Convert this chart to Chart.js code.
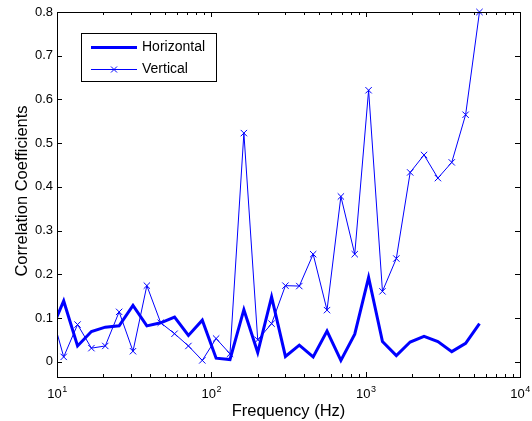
<!DOCTYPE html>
<html>
<head>
<meta charset="utf-8">
<script src="https://cdn.jsdelivr.net/npm/chart.js"></script>
<style>
  html, body { margin: 0; padding: 0; background: #fff; }
  #wrap { width: 532px; height: 421px; }
</style>
</head>
<body>
<div id="wrap"><canvas id="chart" width="532" height="421"></canvas></div>
<script>
// Band centre frequencies (Hz). The first one is below 10 Hz, so the axis clips it.
const frequencies = [8.99, 11.05, 13.59, 16.71, 20.55, 25.27, 31.07, 38.21, 46.99, 57.78, 71.05, 87.37, 107.4, 132.1, 162.5, 199.8, 245.7, 302.1, 371.5, 456.9, 561.8, 690.9, 849.6, 1044.7, 1284.7, 1579.8, 1942.7, 2389, 2938, 3613, 4443, 5463];
const horizontal = [0.065, 0.139, 0.036, 0.069, 0.079, 0.082, 0.129, 0.082, 0.089, 0.102, 0.060, 0.095, 0.008, 0.005, 0.119, 0.021, 0.148, 0.012, 0.038, 0.011, 0.070, 0.003, 0.063, 0.193, 0.046, 0.014, 0.045, 0.058, 0.046, 0.023, 0.042, 0.087];
const vertical = [0.125, 0.011, 0.085, 0.031, 0.036, 0.114, 0.024, 0.174, 0.089, 0.064, 0.036, 0.003, 0.053, 0.018, 0.523, 0.050, 0.087, 0.174, 0.173, 0.246, 0.118, 0.378, 0.246, 0.621, 0.161, 0.236, 0.433, 0.473, 0.420, 0.456, 0.565, 0.800];

const seriesNames = ['Horizontal', 'Vertical'];
const yTicks = [0, 0.1, 0.2, 0.3, 0.4, 0.5, 0.6, 0.7, 0.8];
const yTickLabels = ['0', '0.1', '0.2', '0.3', '0.4', '0.5', '0.6', '0.7', '0.8'];
const xDecades = [10, 100, 1000, 10000];
const xExponents = ['1', '2', '3', '4'];
const xMinorSteps = [2, 3, 4, 5, 6, 7, 8, 9];

const BLUE = '#0000ff';
const FONT = "'Liberation Sans', Arial, Helvetica, sans-serif";

function toPoints(values) {
  return values.map((v, i) => ({ x: frequencies[i], y: v }));
}

function drawCross(ctx, cx, cy, r) {
  ctx.beginPath();
  ctx.moveTo(cx - r, cy - r); ctx.lineTo(cx + r, cy + r);
  ctx.moveTo(cx - r, cy + r); ctx.lineTo(cx + r, cy - r);
  ctx.stroke();
}

// Matlab-style box, inward ticks, tick labels, axis titles and legend
const axesFrame = {
  id: 'axesFrame',
  afterDatasetsDraw(chart) {
    const { ctx, chartArea: a, scales: { x, y } } = chart;
    ctx.save();
    ctx.strokeStyle = '#000';
    ctx.fillStyle = '#000';
    ctx.lineWidth = 1;
    ctx.strokeRect(a.left + 0.5, a.top + 0.5, a.right - a.left, a.bottom - a.top);

    // y ticks, left and right
    ctx.beginPath();
    yTicks.forEach(t => {
      const py = Math.round(y.getPixelForValue(t)) + 0.5;
      ctx.moveTo(a.left, py); ctx.lineTo(a.left + 5, py);
      ctx.moveTo(a.right, py); ctx.lineTo(a.right - 5, py);
    });
    // x ticks, bottom and top
    xDecades.forEach((d, i) => {
      const px = Math.round(x.getPixelForValue(d)) + 0.5;
      ctx.moveTo(px, a.bottom); ctx.lineTo(px, a.bottom - 5);
      ctx.moveTo(px, a.top); ctx.lineTo(px, a.top + 5);
      if (i < xDecades.length - 1) {
        xMinorSteps.forEach(m => {
          const mx = Math.round(x.getPixelForValue(d * m)) + 0.5;
          ctx.moveTo(mx, a.bottom); ctx.lineTo(mx, a.bottom - 3);
          ctx.moveTo(mx, a.top); ctx.lineTo(mx, a.top + 3);
        });
      }
    });
    ctx.stroke();

    // y tick labels
    ctx.font = '13px ' + FONT;
    ctx.textAlign = 'right';
    ctx.textBaseline = 'middle';
    yTicks.forEach((t, i) => {
      ctx.fillText(yTickLabels[i], a.left - 4, y.getPixelForValue(t));
    });

    // x tick labels as 10 with a raised exponent
    ctx.textAlign = 'left';
    ctx.textBaseline = 'alphabetic';
    xDecades.forEach((d, i) => {
      ctx.font = '13px ' + FONT;
      const wBase = ctx.measureText('10').width;
      ctx.font = '9px ' + FONT;
      const wExp = ctx.measureText(xExponents[i]).width;
      const left = x.getPixelForValue(d) - (wBase + wExp) / 2;
      ctx.font = '13px ' + FONT;
      ctx.fillText('10', left, a.bottom + 21);
      ctx.font = '9px ' + FONT;
      ctx.fillText(xExponents[i], left + wBase + 0.5, a.bottom + 15);
    });

    // axis titles
    ctx.font = '16.5px ' + FONT;
    ctx.textAlign = 'center';
    ctx.fillText('Frequency (Hz)', (a.left + a.right) / 2, 416);
    ctx.save();
    ctx.translate(27, 191);
    ctx.rotate(-Math.PI / 2);
    ctx.fillText('Correlation Coefficients', 0, 0);
    ctx.restore();

    // legend
    ctx.fillStyle = '#fff';
    ctx.fillRect(81.5, 33.5, 135, 48);
    ctx.strokeStyle = '#000';
    ctx.strokeRect(81.5, 33.5, 135, 48);
    ctx.strokeStyle = BLUE;
    ctx.lineWidth = 3;
    ctx.beginPath(); ctx.moveTo(91, 47.5); ctx.lineTo(137, 47.5); ctx.stroke();
    ctx.lineWidth = 1;
    ctx.beginPath(); ctx.moveTo(91, 69.5); ctx.lineTo(137, 69.5); ctx.stroke();
    drawCross(ctx, 114, 69.5, 3);
    ctx.fillStyle = '#000';
    ctx.font = '14px ' + FONT;
    ctx.textAlign = 'left';
    ctx.textBaseline = 'middle';
    ctx.fillText(seriesNames[0], 142, 47.5);
    ctx.fillText(seriesNames[1], 142, 69.5);
    ctx.restore();
  }
};

new Chart(document.getElementById('chart'), {
  type: 'line',
  data: {
    datasets: [
      {
        label: seriesNames[0],
        data: toPoints(horizontal),
        borderColor: BLUE,
        borderWidth: 3,
        pointRadius: 0,
        tension: 0,
        clip: { left: 0, top: 6, right: 6, bottom: 6 },
        order: 1
      },
      {
        label: seriesNames[1],
        data: toPoints(vertical),
        borderColor: BLUE,
        backgroundColor: BLUE,
        borderWidth: 1,
        pointStyle: 'crossRot',
        pointRadius: 4.5,
        pointBorderWidth: 1,
        pointBorderColor: BLUE,
        tension: 0,
        clip: { left: 0, top: 6, right: 6, bottom: 6 },
        order: 0
      }
    ]
  },
  options: {
    responsive: false,
    animation: false,
    layout: { padding: { left: 57, top: 12, right: 12, bottom: 44 } },
    scales: {
      x: { type: 'logarithmic', min: 10, max: 10000, display: false },
      y: { type: 'linear', min: -0.035, max: 0.8, display: false }
    },
    plugins: {
      legend: { display: false },
      tooltip: { enabled: false }
    }
  },
  plugins: [axesFrame]
});
</script>
</body>
</html>
